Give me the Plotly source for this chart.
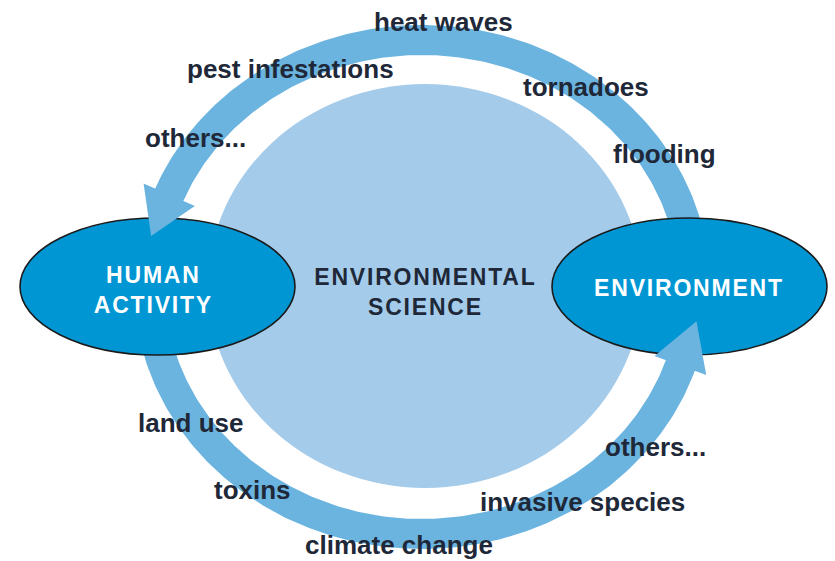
import numpy as np
import plotly.graph_objects as go

# ---- content ----
top_labels = ["heat waves", "pest infestations", "tornadoes", "others...", "flooding"]
top_x = [443, 290, 586, 195, 664]
top_y = [22, 69, 87, 138, 154]

bottom_labels = ["land use", "toxins", "climate change", "others...", "invasive species"]
bottom_x = [190, 252, 399, 655, 582]
bottom_y = [423, 490, 545, 447, 502]

node_left = "HUMAN<br>ACTIVITY"
node_right = "ENVIRONMENT"
center_label = "ENVIRONMENTAL<br>SCIENCE"

# ---- geometry / style ----
W, H = 835, 561
RING_C = (422, 287)
A_OUT, A_IN = 288, 257
B_OUT, B_IN = 262, 232
CIRC_C = (425, 286)
CIRC_A, CIRC_B = 217, 202
LEFT_E = (157.5, 286.5)
RIGHT_E = (689.5, 286.5)
E_A, E_B = 137.5, 68.5

C_RING = "#6bb4df"
C_CIRC = "#a4cbe9"
C_NODE = "#0096d3"
C_TEXT = "#1e2838"


def ell(a, b, th):
    return RING_C[0] + a * np.cos(th), RING_C[1] - b * np.sin(th)


def arrow_parts(th0, th1, head_len, head_w):
    th = np.linspace(np.radians(th0), np.radians(th1), 200)
    xo, yo = ell(A_OUT, B_OUT, th)
    xi, yi = ell(A_IN, B_IN, th)
    xs = list(xo) + list(xi[::-1]) + [xo[0]]
    ys = list(yo) + list(yi[::-1]) + [yo[0]]
    am, bm = (A_OUT + A_IN) / 2, (B_OUT + B_IN) / 2
    t1 = np.radians(th1)
    px, py = ell(am, bm, t1)
    s = np.sign(th1 - th0)
    tx, ty = -am * np.sin(t1) * s, -bm * np.cos(t1) * s
    n = np.hypot(tx, ty)
    tx, ty = tx / n, ty / n
    nx, ny = ty, -tx
    # slightly behind the base so it joins the shaft cleanly
    bx, by = px - tx * 1.0, py - ty * 1.0
    p1 = (bx + nx * head_w / 2, by + ny * head_w / 2)
    p2 = (bx - nx * head_w / 2, by - ny * head_w / 2)
    tip = (px + tx * head_len, py + ty * head_len)
    path = f"M {p1[0]:.2f},{p1[1]:.2f} L {tip[0]:.2f},{tip[1]:.2f} L {p2[0]:.2f},{p2[1]:.2f} Z"
    return xs, ys, path


fig = go.Figure()
heads = []
for th0, th1, hl, hw in [(2, 158.3, 44, 56), (178, 341.7, 46, 55)]:
    xs, ys, path = arrow_parts(th0, th1, hl, hw)
    heads.append(path)
    fig.add_trace(go.Scatter(x=xs, y=ys, mode="lines", fill="toself",
                             fillcolor=C_RING, line=dict(width=0, color=C_RING),
                             hoverinfo="skip", showlegend=False))

shapes = [
    dict(type="circle", xref="x", yref="y", layer="below",
         x0=CIRC_C[0] - CIRC_A, x1=CIRC_C[0] + CIRC_A,
         y0=CIRC_C[1] - CIRC_B, y1=CIRC_C[1] + CIRC_B,
         fillcolor=C_CIRC, line=dict(width=0)),
]
for cx, cy in (LEFT_E, RIGHT_E):
    shapes.append(dict(type="circle", xref="x", yref="y", layer="above",
                       x0=cx - E_A, x1=cx + E_A, y0=cy - E_B, y1=cy + E_B,
                       fillcolor=C_NODE, line=dict(width=1.6, color="#1a1a1a")))
for p in heads:
    shapes.append(dict(type="path", xref="x", yref="y", layer="above", path=p,
                       fillcolor=C_RING, line=dict(width=0)))

ann = []
for t, x, y in zip(top_labels + bottom_labels, top_x + bottom_x, top_y + bottom_y):
    ann.append(dict(text=f"<b>{t}</b>", x=x, y=y, xref="x", yref="y", showarrow=False,
                    font=dict(family="Liberation Sans, Arial", size=26, color=C_TEXT),
                    xanchor="center", yanchor="middle"))
ann.append(dict(text=f"<b>{node_left}</b>", x=153, y=290, xref="x", yref="y", showarrow=False,
                font=dict(family="Liberation Sans, Arial", size=23, color="white"),
                xanchor="center", yanchor="middle"))
ann.append(dict(text=f"<b>{node_right}</b>", x=689, y=288, xref="x", yref="y", showarrow=False,
                font=dict(family="Liberation Sans, Arial", size=23, color="white"),
                xanchor="center", yanchor="middle"))
ann.append(dict(text=f"<b>{center_label}</b>", x=425, y=292, xref="x", yref="y", showarrow=False,
                font=dict(family="Liberation Sans, Arial", size=23, color=C_TEXT),
                xanchor="center", yanchor="middle"))

fig.update_layout(
    width=W, height=H, margin=dict(l=0, r=0, t=0, b=0),
    paper_bgcolor="white", plot_bgcolor="white",
    xaxis=dict(range=[0, W], visible=False, fixedrange=True),
    yaxis=dict(range=[H, 0], visible=False, fixedrange=True),
    shapes=shapes, annotations=ann, showlegend=False,
)

post = """
document.body.style.margin='0px';
document.body.style.overflow='hidden';
var gd = document.getElementById('{plot_id}');
function spaceCaps(){
  document.querySelectorAll('.annotation-text').forEach(function(t){
    var s = t.textContent || '';
    if (s.length && s === s.toUpperCase()) { t.style.letterSpacing = '1.8px'; }
  });
}
spaceCaps();
if (gd && gd.on) { gd.on('plotly_afterplot', spaceCaps); }
setTimeout(spaceCaps, 50);
"""
fig.write_html("out.html", config={"displayModeBar": False}, post_script=post)
